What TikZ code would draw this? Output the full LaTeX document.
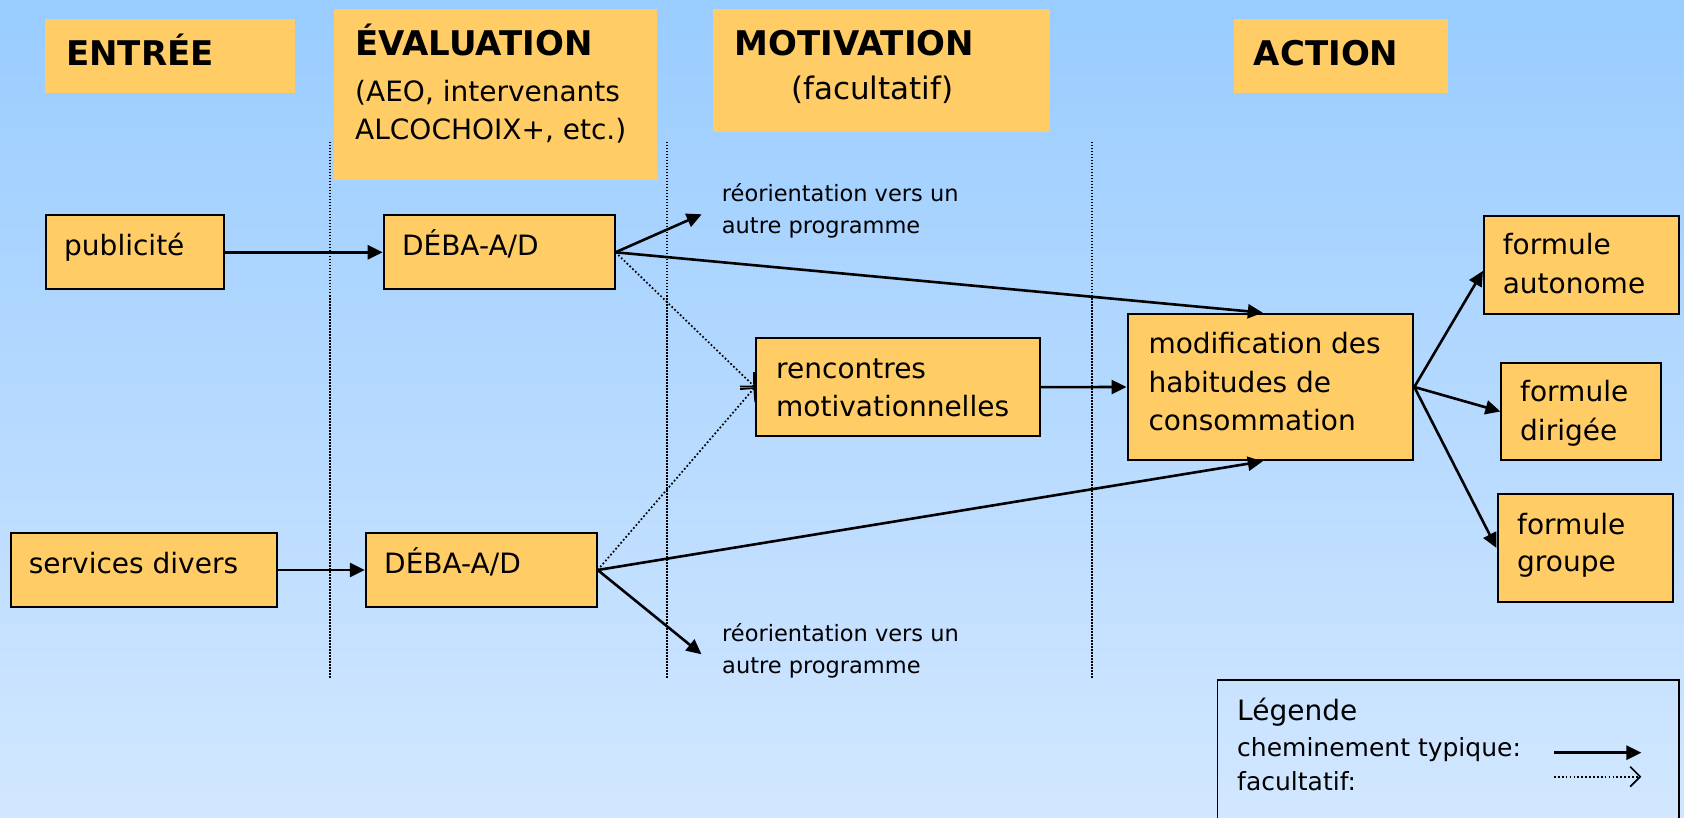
\documentclass[tikz,border=0pt]{standalone}
\usepackage{fontspec}
\setmainfont{DejaVu Sans}
\usetikzlibrary{arrows.meta,calc}
\definecolor{bgtop}{RGB}{153,204,255}
\definecolor{bgbot}{RGB}{210,231,255}
\definecolor{boxfill}{RGB}{255,204,102}
\tikzset{
  box/.style={draw=black, line width=2pt, fill=boxfill, inner sep=0pt, anchor=north west},
  hdr/.style={fill=boxfill, inner sep=0pt, anchor=north west},
  txt/.style={anchor=base west, inner sep=0pt, font=\fontsize{28}{34}\selectfont},
  head/.style={anchor=base west, inner sep=0pt, font=\fontsize{34}{40}\selectfont\bfseries},
  smalltxt/.style={anchor=base west, inner sep=0pt, font=\fontsize{22.5}{27}\selectfont},
  legtxt/.style={anchor=base west, inner sep=0pt, font=\fontsize{25}{30}\selectfont},
  flow/.style={line width=2.6pt, -{Triangle[length=15pt,width=14pt]}},
  optflow/.style={line width=1.7pt, dash pattern=on 1.7pt off 2.2pt, -{Straight Barb[length=10pt,width=20pt,line width=1.7pt]}},
  sepline/.style={line width=1.5pt, dash pattern=on 1.5pt off 1.5pt},
}
\begin{document}
\begin{tikzpicture}[x=1pt,y=-1pt]
\useasboundingbox (0,0) rectangle (1684,818);
\clip (0,0) rectangle (1684,818);
\shade[top color=bgtop,bottom color=bgbot] (0,0) rectangle (1684,818);

% separators
\draw[sepline] (330,142) -- (330,679);
\draw[sepline] (667,142) -- (667,679);
\draw[sepline] (1092,142) -- (1092,679);

% headers
\node[hdr, minimum width=250, minimum height=73.7] (hEntree) at (44.6,19) {};
\node[hdr, minimum width=323, minimum height=170.2] (hEval) at (334,9.3) {};
\node[hdr, minimum width=337, minimum height=122.4] (hMotiv) at (712.6,9.3) {};
\node[hdr, minimum width=214, minimum height=73.7] (hAction) at (1234,19) {};
\node[head] (tEntree) at (66,65.7) {ENTRÉE};
\node[head] (tEval) at (355,56) {ÉVALUATION};
\node[txt] (tEval2) at (355,101.7) {(AEO, intervenants};
\node[txt] (tEval3) at (355,140) {ALCOCHOIX+, etc.)};
\node[head] (tMotiv) at (734.5,56) {MOTIVATION};
\node[anchor=base west, inner sep=0pt, font=\fontsize{31}{36}\selectfont] (tMotiv2) at (791,100) {(facultatif)};
\node[head] (tAction) at (1253.7,65.7) {ACTION};

% boxes
\node[box, minimum width=178.4, minimum height=74] (pub) at (44.6,214.3) {};
\node[box, minimum width=230.8, minimum height=74] (deba1) at (382.7,214.3) {};
\node[box, minimum width=266.4, minimum height=73.4] (serv) at (9.6,532.3) {};
\node[box, minimum width=230.9, minimum height=73.4] (deba2) at (364.8,532.3) {};
\node[box, minimum width=284, minimum height=97.7] (renc) at (755,337.3) {};
\node[box, minimum width=285.8, minimum height=146.6] (modif) at (1126.5,312.7) {};
\node[box, minimum width=195.4, minimum height=97.7] (auto) at (1483,215) {};
\node[box, minimum width=159.6, minimum height=97.6] (dirig) at (1500.4,361.7) {};
\node[box, minimum width=175.8, minimum height=107.4] (grp) at (1496.5,493.3) {};

% box texts
\node[txt] (tPub) at (64,256) {publicité};
\node[txt] (tDeba1) at (401.8,256) {DÉBA-A/D};
\node[txt] (tServ) at (28.7,573) {services divers};
\node[txt] (tDeba2) at (384,573) {DÉBA-A/D};
\node[txt] (tRenc1) at (776,378.3) {rencontres};
\node[txt] (tRenc2) at (776,416) {motivationnelles};
\node[txt] (tMod1) at (1148.3,353.3) {modification des};
\node[txt] (tMod2) at (1148.3,392.3) {habitudes de};
\node[txt] (tMod3) at (1148.3,430.7) {consommation};
\node[txt] (tAuto1) at (1502.6,255) {formule};
\node[txt] (tAuto2) at (1502.6,294) {autonome};
\node[txt] (tDir1) at (1520,401.5) {formule};
\node[txt] (tDir2) at (1520,440) {dirigée};
\node[txt] (tGrp1) at (1517,534) {formule};
\node[txt] (tGrp2) at (1517,571) {groupe};

% reorientation labels
\node[smalltxt] (reoA1) at (721.7,201.7) {réorientation vers un};
\node[smalltxt] (reoA2) at (721.7,233.3) {autre programme};
\node[smalltxt] (reoB1) at (722,641) {réorientation vers un};
\node[smalltxt] (reoB2) at (722,673.3) {autre programme};
\coordinate (reoAtip) at (701.7,214.3);
\coordinate (reoBtip) at (701.5,654.3);

% connectors
\draw[flow] (pub.east) -- (deba1.west);
\draw[flow] (serv.east) -- (deba2.west);
\draw[flow] (deba1.east) -- (reoAtip);
\draw[flow] (deba1.east) -- ($(modif.north)+(-7.6,0)$);
\draw[optflow] (deba1.east) -- (renc.west);
\draw[optflow] (deba2.east) -- (renc.west);
\draw[flow] (deba2.east) -- ($(modif.south)+(-7.6,0)$);
\draw[flow] (deba2.east) -- (reoBtip);
\draw[flow] (renc.east) -- (modif.west);
\draw[flow] (modif.east) -- ($(auto.west)+(0,6)$);
\draw[flow] (modif.east) -- (dirig.west);
\draw[flow] (modif.east) -- (grp.west);

% legend
\node[draw=black, line width=1.5pt, inner sep=0pt, anchor=north west, minimum width=461.6, minimum height=150] (legend) at (1216.8,679.3) {};
\node[txt] (lgTitle) at (1237,720) {Légende};
\node[legtxt] (lgTyp) at (1237,756) {cheminement typique:};
\node[legtxt] (lgFac) at (1237,790) {facultatif:};
\coordinate (lg1a) at (1554,752.7);
\coordinate (lg1b) at (1641.4,752.7);
\coordinate (lg2a) at (1554,776.7);
\coordinate (lg2b) at (1641.4,776.7);
\draw[flow] (lg1a) -- (lg1b);
\draw[optflow] (lg2a) -- (lg2b);
\end{tikzpicture}
\end{document}
